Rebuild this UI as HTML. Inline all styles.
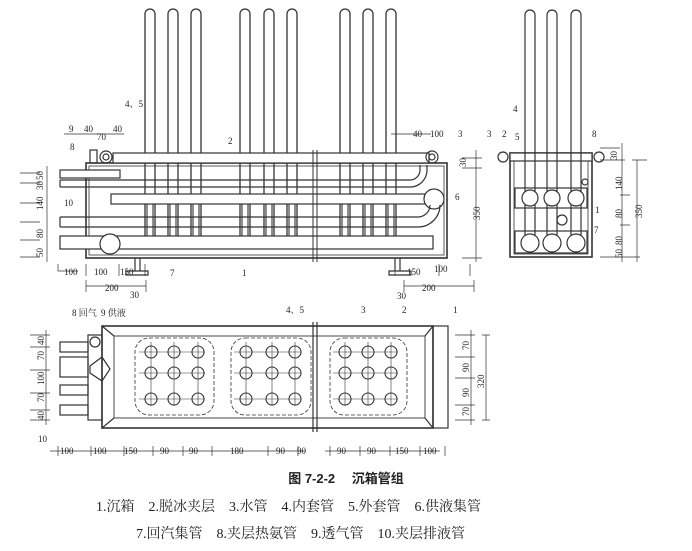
<!DOCTYPE html><html><head><meta charset="utf-8"><style>
html,body{margin:0;padding:0;background:#fff;width:692px;height:551px;overflow:hidden}
svg{position:absolute;left:0;top:0}
text{font-family:"Liberation Serif","Noto Serif CJK SC",serif;fill:#222;stroke:none}
.t{font-size:9px}
</style></head><body>
<svg width="692" height="551" viewBox="0 0 692 551" stroke="#333" fill="none" stroke-width="1.2">
<g id="front">
<g stroke-width="1.3">
<path d="M145 240V14a5 5 0 0 1 10 0V240"/><path d="M168 240V14a5 5 0 0 1 10 0V240"/><path d="M191 240V14a5 5 0 0 1 10 0V240"/>
<path d="M240 240V14a5 5 0 0 1 10 0V240"/><path d="M264 240V14a5 5 0 0 1 10 0V240"/><path d="M287 240V14a5 5 0 0 1 10 0V240"/>
<path d="M340 240V14a5 5 0 0 1 10 0V240"/><path d="M363 240V14a5 5 0 0 1 10 0V240"/><path d="M386 240V14a5 5 0 0 1 10 0V240"/>
</g>
<rect x="86" y="163" width="361" height="95" stroke-width="1.6"/>
<rect x="89" y="166" width="355" height="89" stroke-width="0.8"/>
<rect x="113" y="153" width="316" height="10" fill="#fff"/>
<circle cx="106" cy="157" r="6"/><circle cx="106" cy="157" r="3"/>
<circle cx="432" cy="157" r="6"/><circle cx="432" cy="157" r="3"/>
<rect x="90" y="150" width="7" height="13"/>
<rect x="60" y="170" width="60" height="8" fill="#fff"/>
<path d="M60 180H410a10 10 0 0 0 10 -10V165M60 187H410a17 17 0 0 0 17 -17V165"/>
<path d="M60 180v7"/>
<rect x="111" y="194" width="320" height="10" fill="#fff"/>
<circle cx="434" cy="199" r="10" fill="#fff"/>
<path d="M60 217H418a12 12 0 0 0 12 -12M60 227H418a22 22 0 0 0 22 -22M60 217v10"/>
<rect x="60" y="236" width="373" height="13" fill="#fff"/>
<circle cx="110" cy="244" r="10" fill="#fff"/>
<g stroke-width="1.1">
<path d="M147 204v32M153 204v32M170 204v32M176 204v32M193 204v32M199 204v32M242 204v32M248 204v32M266 204v32M272 204v32M289 204v32M295 204v32M342 204v32M348 204v32M365 204v32M371 204v32M388 204v32M394 204v32"/>
</g>
<path d="M313 150V262M317 150V262" stroke-width="1"/>
<path d="M135 258v13M140 258v13M126 271h22v4h-22zM395 258v13M400 258v13M389 271h22v4h-22z"/>
<g stroke-width="0.7">
<path d="M20 173h20M20 183h20M20 203h20M20 222h20M20 240h20M20 257h20M47 166V262"/>
<path d="M462 158h20M462 168h20M462 258h20M476 150V262"/>
<path d="M58 271h20M58 271V264M86 264v12M119 264v12M145 264v12M86 286h60M86 280v12M146 280v12M439 264v12M470 264v12M395 264v12M404 286h70M474 280v12M404 280v12"/>
<path d="M64 134h60M391 134h40"/>
</g>
<text class="t" x="125" y="107">4、5</text>
<text class="t" x="69" y="132">9</text><text class="t" x="84" y="132">40</text><text class="t" x="97" y="140">70</text><text class="t" x="113" y="132">40</text>
<text class="t" x="70" y="150">8</text><text class="t" x="64" y="206">10</text>
<text class="t" x="228" y="144">2</text>
<text class="t" x="413" y="137">40</text><text class="t" x="430" y="137">100</text><text class="t" x="458" y="137">3</text>
<text class="t" x="455" y="200">6</text><text class="t" x="170" y="276">7</text><text class="t" x="242" y="276">1</text>
<text class="t" x="64" y="275">100</text><text class="t" x="94" y="275">100</text><text class="t" x="120" y="275">150</text>
<text class="t" x="105" y="291">200</text><text class="t" x="130" y="298">30</text>
<text class="t" x="407" y="275">150</text><text class="t" x="434" y="272">100</text>
<text class="t" x="422" y="291">200</text><text class="t" x="397" y="299">30</text>
<text class="t" transform="translate(43 180) rotate(-90)">50</text><text class="t" transform="translate(43 190) rotate(-90)">30</text><text class="t" transform="translate(43 210) rotate(-90)">140</text><text class="t" transform="translate(43 238) rotate(-90)">80</text><text class="t" transform="translate(43 257) rotate(-90)">50</text>
<text class="t" transform="translate(466 167) rotate(-90)">30</text><text class="t" transform="translate(480 220) rotate(-90)">350</text>
</g>
<g>
<path d="M525 240V15a5 5 0 0 1 10 0V240"/><path d="M547 240V15a5 5 0 0 1 10 0V240"/><path d="M571 240V15a5 5 0 0 1 10 0V240"/>
<rect x="510" y="153" width="82" height="104" stroke-width="1.6"/>
<rect x="514" y="160" width="74" height="94" stroke-width="0.8"/>
<rect x="510" y="153" width="82" height="8" fill="#fff"/>
<path d="M525 153v8M535 153v8M547 153v8M557 153v8M571 153v8M581 153v8"/>
<circle cx="503" cy="157" r="5"/><circle cx="599" cy="157" r="5"/>
<rect x="515" y="188" width="72" height="20"/>
<circle cx="530" cy="198" r="8" fill="#fff"/><circle cx="552" cy="198" r="8" fill="#fff"/><circle cx="576" cy="198" r="8" fill="#fff"/>
<circle cx="562" cy="220" r="5"/>
<rect x="515" y="231" width="72" height="22"/>
<circle cx="530" cy="243" r="9" fill="#fff"/><circle cx="552" cy="243" r="9" fill="#fff"/><circle cx="576" cy="243" r="9" fill="#fff"/>
<circle cx="585" cy="182" r="3"/>
<g stroke-width="0.7"><path d="M600 148h20M600 160h25M620 195h10M620 225h10M600 257h40M622 143V262M637 160V262M632 160h15"/></g>
<text class="t" x="487" y="137">3</text><text class="t" x="502" y="137">2</text><text class="t" x="515" y="140">5</text><text class="t" x="513" y="112">4</text><text class="t" x="592" y="137">8</text>
<text class="t" x="595" y="213">1</text><text class="t" x="594" y="233">7</text>
<text class="t" transform="translate(617 160) rotate(-90)">30</text><text class="t" transform="translate(622 190) rotate(-90)">140</text><text class="t" transform="translate(622 218) rotate(-90)">80</text><text class="t" transform="translate(622 245) rotate(-90)">80</text><text class="t" transform="translate(622 258) rotate(-90)">50</text><text class="t" transform="translate(642 218) rotate(-90)">350</text>
</g>
<g>
<rect x="102" y="326" width="331" height="102" stroke-width="1.6"/>
<rect x="114" y="336" width="311" height="82" stroke-width="0.9"/>
<path d="M102 326l12 10M433 326l-8 10M102 428l12 -10M433 428l-8 -10"/>
<rect x="433" y="326" width="15" height="102"/>
<rect x="88" y="335" width="14" height="85"/>
<rect x="60" y="342" width="28" height="10"/><rect x="60" y="357" width="28" height="20"/><rect x="60" y="385" width="28" height="10"/><rect x="60" y="405" width="28" height="10"/>
<path d="M90 366l12 -9l8 12l-8 12l-12 -8z"/>
<circle cx="95" cy="342" r="5"/>
<path d="M313 322V432M317 322V432"/>
<g stroke-dasharray="4 2" stroke-width="0.8">
<rect x="135" y="338" width="79" height="77" rx="14"/><rect x="231" y="338" width="80" height="77" rx="14"/><rect x="330" y="338" width="77" height="77" rx="14"/>
</g>
<g fill="#fff" stroke-width="1.1">
<circle cx="151" cy="352" r="6"/><circle cx="174" cy="352" r="6"/><circle cx="198" cy="352" r="6"/>
<circle cx="151" cy="373" r="6"/><circle cx="174" cy="373" r="6"/><circle cx="198" cy="373" r="6"/>
<circle cx="151" cy="399" r="6"/><circle cx="174" cy="399" r="6"/><circle cx="198" cy="399" r="6"/>
<circle cx="246" cy="352" r="6"/><circle cx="272" cy="352" r="6"/><circle cx="295" cy="352" r="6"/>
<circle cx="246" cy="373" r="6"/><circle cx="272" cy="373" r="6"/><circle cx="295" cy="373" r="6"/>
<circle cx="246" cy="399" r="6"/><circle cx="272" cy="399" r="6"/><circle cx="295" cy="399" r="6"/>
<circle cx="345" cy="352" r="6"/><circle cx="368" cy="352" r="6"/><circle cx="391" cy="352" r="6"/>
<circle cx="345" cy="373" r="6"/><circle cx="368" cy="373" r="6"/><circle cx="391" cy="373" r="6"/>
<circle cx="345" cy="399" r="6"/><circle cx="368" cy="399" r="6"/><circle cx="391" cy="399" r="6"/>
</g>
<g stroke-width="0.6"><path d="M139 352h66M139 373h66M139 399h66M234 352h67M234 373h67M234 399h67M333 352h65M333 373h65M333 399h65M151 342v64M174 342v64M198 342v64M246 342v64M272 342v64M295 342v64M345 342v64M368 342v64M391 342v64"/></g>
<g stroke-width="0.7"><path d="M30 335h20M30 347h20M30 370h20M30 393h20M30 410h20M30 420h20M46 330V425M455 335h20M455 357h20M455 378h20M455 405h20M455 420h20M471 330V425M490 335h-8M490 420h-8M486 335V420M50 451h255M325 451h115"/>
<path d="M58 446v10M91 446v10M124 446v10M153 446v10M183 446v10M212 446v10M268 446v10M298 446v10M330 446v10M360 446v10M390 446v10M420 446v10M445 446v10"/></g>
<text class="t" x="72" y="316">8 回气</text><text class="t" x="101" y="316">9 供液</text>
<text class="t" x="286" y="313">4、5</text><text class="t" x="361" y="313">3</text><text class="t" x="402" y="313">2</text><text class="t" x="453" y="313">1</text>
<text class="t" x="38" y="442">10</text>
<text class="t" transform="translate(44 345) rotate(-90)">40</text><text class="t" transform="translate(44 360) rotate(-90)">70</text><text class="t" transform="translate(44 385) rotate(-90)">100</text><text class="t" transform="translate(44 402) rotate(-90)">70</text><text class="t" transform="translate(44 420) rotate(-90)">40</text>
<text class="t" transform="translate(469 350) rotate(-90)">70</text><text class="t" transform="translate(469 372) rotate(-90)">90</text><text class="t" transform="translate(469 397) rotate(-90)">90</text><text class="t" transform="translate(469 416) rotate(-90)">70</text><text class="t" transform="translate(484 388) rotate(-90)">320</text>
<text class="t" x="60" y="454">100</text><text class="t" x="93" y="454">100</text><text class="t" x="124" y="454">150</text><text class="t" x="160" y="454">90</text><text class="t" x="189" y="454">90</text><text class="t" x="230" y="454">180</text><text class="t" x="276" y="454">90</text><text class="t" x="297" y="454">90</text>
<text class="t" x="337" y="454">90</text><text class="t" x="367" y="454">90</text><text class="t" x="395" y="454">150</text><text class="t" x="423" y="454">100</text>
</g>
</svg>
<div style="position:absolute;left:0;top:468px;width:692px;text-align:center;font:bold 13px 'Liberation Sans','Noto Sans CJK SC',sans-serif;color:#222">图 7-2-2　 沉箱管组</div>
<div style="position:absolute;left:96px;top:496px;font:14px 'Liberation Serif','Noto Serif CJK SC',serif;color:#222;white-space:nowrap">1.沉箱　2.脱冰夹层　3.水管　4.内套管　5.外套管　6.供液集管</div>
<div style="position:absolute;left:136px;top:523px;font:14px 'Liberation Serif','Noto Serif CJK SC',serif;color:#222;white-space:nowrap">7.回汽集管　8.夹层热氨管　9.透气管　10.夹层排液管</div>
</body></html>
